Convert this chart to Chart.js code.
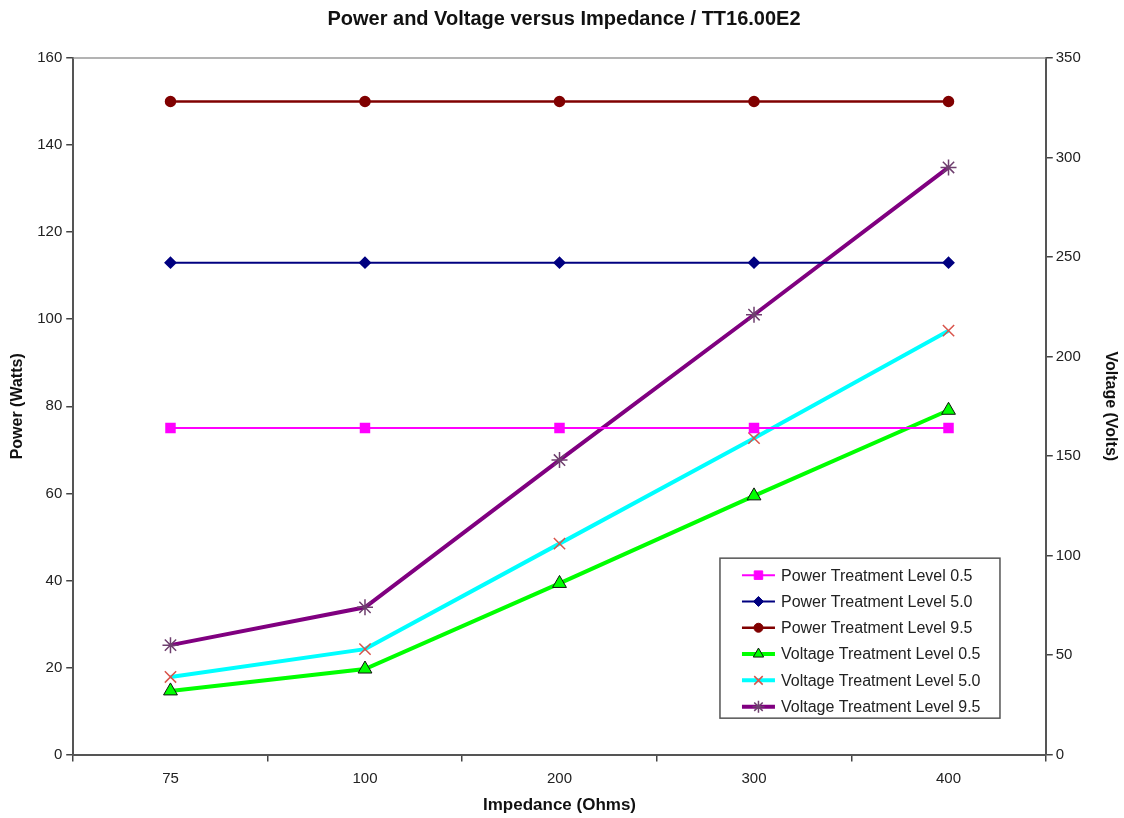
<!DOCTYPE html>
<html>
<head>
<meta charset="utf-8">
<script src="https://cdn.jsdelivr.net/npm/chart.js@4/dist/chart.umd.min.js"></script>
<style>
html,body{margin:0;padding:0;background:#fff;}
#wrap{position:relative;width:1124px;height:818px;}
</style>
</head>
<body>
<div id="wrap"><canvas id="c" width="1124" height="818"></canvas></div>
<script>
const categories = ['75', '100', '200', '300', '400'];
const powerLevel05 = [75, 75, 75, 75, 75];
const powerLevel50 = [113, 113, 113, 113, 113];
const powerLevel95 = [150, 150, 150, 150, 150];
const voltageLevel05 = [32, 43, 86, 130, 173];
const voltageLevel50 = [39, 53, 106, 159, 213];
const voltageLevel95 = [55, 74, 148, 221, 295];
const powerTicks = {min: 0, max: 160, step: 20};
const voltTicks = {min: 0, max: 350, step: 50};

const FONT = 'Liberation Sans, Arial, sans-serif';
Chart.defaults.font.family = FONT;
Chart.defaults.color = '#222';

const datasets = [
  {label:'Power Treatment Level 0.5', data:powerLevel05, yAxisID:'y', borderColor:'#ff00ff', backgroundColor:'#ff00ff', borderWidth:2, pointStyle:'rect', pointRadius:6, pointBorderColor:'#ff00ff', pointBackgroundColor:'#ff00ff'},
  {label:'Power Treatment Level 5.0', data:powerLevel50, yAxisID:'y', borderColor:'#000080', backgroundColor:'#000080', borderWidth:2, pointStyle:'rectRot', pointRadius:5, pointBorderColor:'#000080', pointBackgroundColor:'#000080'},
  {label:'Power Treatment Level 9.5', data:powerLevel95, yAxisID:'y', borderColor:'#800000', backgroundColor:'#800000', borderWidth:2.5, pointStyle:'circle', pointRadius:4.5, pointBorderColor:'#800000', pointBackgroundColor:'#800000'},
  {label:'Voltage Treatment Level 0.5', data:voltageLevel05, yAxisID:'y1', borderColor:'#00ff00', backgroundColor:'#00ff00', borderWidth:4, pointStyle:'triangle', pointRadius:8, pointBorderColor:'#111', pointBackgroundColor:'#00ff00', pointBorderWidth:1},
  {label:'Voltage Treatment Level 5.0', data:voltageLevel50, yAxisID:'y1', borderColor:'#00ffff', backgroundColor:'#00ffff', borderWidth:4, pointStyle:'crossRot', pointRadius:8, pointBorderColor:'#d9534a', pointBackgroundColor:'#d9534a', pointBorderWidth:1.5},
  {label:'Voltage Treatment Level 9.5', data:voltageLevel95, yAxisID:'y1', borderColor:'#800080', backgroundColor:'#800080', borderWidth:4, pointStyle:'star', pointRadius:8, pointBorderColor:'#6e3f6e', pointBackgroundColor:'#6e3f6e', pointBorderWidth:1.5}
];

const frame = {
  id:'frame',
  beforeDatasetsDraw(chart){
    const a = chart.chartArea, ctx = chart.ctx;
    ctx.save();
    ctx.strokeStyle = '#9a9a9a';
    ctx.lineWidth = 1.5;
    ctx.beginPath();
    ctx.moveTo(a.left, a.top);
    ctx.lineTo(a.right, a.top);
    ctx.stroke();
    ctx.restore();
  }
};

const boxLegend = {
  id:'boxLegend',
  afterDraw(chart){
    const ctx = chart.ctx, a = chart.chartArea;
    const x = a.left + (a.right - a.left) * 0.665;
    const y = a.top + (a.bottom - a.top) * 0.718;
    const w = 280, rowH = 26.3, h = 160;
    ctx.save();
    ctx.fillStyle = '#fff';
    ctx.fillRect(x, y, w, h);
    ctx.strokeStyle = '#555';
    ctx.lineWidth = 1.5;
    ctx.strokeRect(x, y, w, h);
    ctx.font = '16px ' + FONT;
    ctx.textBaseline = 'middle';
    chart.data.datasets.forEach((d, i) => {
      const cy = y + 17 + i * rowH;
      ctx.strokeStyle = d.borderColor;
      ctx.lineWidth = Math.min(d.borderWidth, 4);
      ctx.beginPath();
      ctx.moveTo(x + 22, cy);
      ctx.lineTo(x + 55, cy);
      ctx.stroke();
      ctx.fillStyle = d.pointBackgroundColor;
      ctx.strokeStyle = d.pointBorderColor;
      ctx.lineWidth = d.pointBorderWidth || 1;
      Chart.helpers.drawPoint(ctx, {pointStyle:d.pointStyle, radius:Math.min(d.pointRadius, 6), rotation:0, borderWidth:d.pointBorderWidth || 1}, x + 38.5, cy);
      ctx.fillStyle = '#222';
      ctx.fillText(d.label, x + 61, cy + 1);
    });
    ctx.restore();
  }
};

new Chart(document.getElementById('c'), {
  type:'line',
  data:{labels:categories, datasets},
  options:{
    responsive:false,
    animation:false,
    events:[],
    layout:{padding:{left:4, right:0, top:0, bottom:2}},
    plugins:{
      legend:{display:false},
      tooltip:{enabled:false},
      title:{display:true, text:'Power and Voltage versus Impedance / TT16.00E2', font:{size:20, weight:'bold'}, color:'#111', padding:{top:7, bottom:27}}
    },
    scales:{
      x:{
        type:'category', offset:true,
        grid:{offset:true, drawOnChartArea:false, drawTicks:true, tickLength:7, color:'#444', lineWidth:1.5},
        border:{display:true, color:'#555', width:2},
        ticks:{font:{size:15}, color:'#222', padding:8},
        title:{display:true, text:'Impedance (Ohms)', font:{size:17, weight:'bold'}, color:'#111', padding:{top:0, bottom:0}}
      },
      y:{
        position:'left', min:powerTicks.min, max:powerTicks.max,
        grid:{drawOnChartArea:false, tickLength:7, color:'#444', lineWidth:1.5},
        border:{display:true, color:'#555', width:2},
        ticks:{stepSize:powerTicks.step, font:{size:15}, color:'#222', padding:4},
        title:{display:true, text:'Power (Watts)', font:{size:16, weight:'bold'}, color:'#111', padding:{top:4, bottom:6}}
      },
      y1:{
        position:'right', min:voltTicks.min, max:voltTicks.max,
        grid:{drawOnChartArea:false, tickLength:7, color:'#444', lineWidth:1.5},
        border:{display:true, color:'#555', width:2},
        ticks:{stepSize:voltTicks.step, font:{size:15}, color:'#222', padding:3},
        title:{display:true, text:'Voltage (Volts)', font:{size:16, weight:'bold'}, color:'#111', padding:{top:4, bottom:17}}
      }
    }
  },
  plugins:[frame, boxLegend]
});
</script>
</body>
</html>
